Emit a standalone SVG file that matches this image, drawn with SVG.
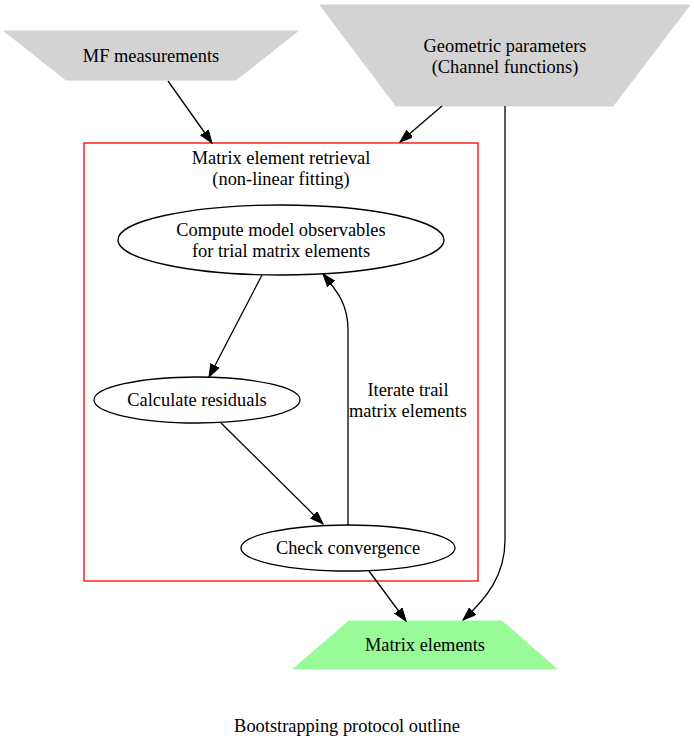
<svg xmlns="http://www.w3.org/2000/svg" width="694" height="748" viewBox="0 0 694 748">
  <style>
    text { font-family: "Liberation Serif", "Times New Roman", serif; font-size: 18.4px; fill: #000; text-anchor: middle; }
    .input { fill: #d3d3d3; stroke: #d3d3d3; }
    .output { fill: #98fb98; stroke: #98fb98; }
    .step { fill: none; stroke: #000; stroke-width: 1.3; }
    .cluster { fill: none; stroke: #ff0000; stroke-width: 1.3; }
    .edge { fill: none; stroke: #000; stroke-width: 1.3; marker-end: url(#arrow); }
  </style>
  <defs>
    <marker id="arrow" markerUnits="userSpaceOnUse" markerWidth="14" markerHeight="10" refX="13" refY="4.7" orient="auto">
      <path d="M0,0 L13,4.7 L0,9.4 z" fill="#000" stroke="#000" stroke-width="1"/>
    </marker>
  </defs>

  <rect width="694" height="748" fill="#fff"/>

  <!-- fitting loop container -->
  <g id="cluster_retrieval">
    <rect class="cluster" x="84" y="143" width="394" height="438"/>
    <text x="281" y="164">Matrix element retrieval</text>
    <text x="281" y="185">(non-linear fitting)</text>
  </g>

  <g id="mf_measurements">
    <polygon class="input" points="4,31 298,31 236,80 66,80"/>
    <text x="151" y="62">MF measurements</text>
  </g>

  <g id="geometric_parameters">
    <polygon class="input" points="320,5 690,5 613,106 396,106"/>
    <text x="505" y="52">Geometric parameters</text>
    <text x="505" y="73">(Channel functions)</text>
  </g>

  <g id="compute_observables">
    <ellipse class="step" cx="281" cy="240" rx="163" ry="35"/>
    <text x="281" y="236">Compute model observables</text>
    <text x="281" y="257">for trial matrix elements</text>
  </g>

  <g id="calculate_residuals">
    <ellipse class="step" cx="197" cy="400" rx="103" ry="23"/>
    <text x="197" y="406">Calculate residuals</text>
  </g>

  <g id="check_convergence">
    <ellipse class="step" cx="348" cy="548" rx="107" ry="23"/>
    <text x="348" y="554">Check convergence</text>
  </g>

  <g id="matrix_elements">
    <polygon class="output" points="349,621 502,621 557,669 293,669"/>
    <text x="425" y="651">Matrix elements</text>
  </g>

  <g id="connectors">
    <path class="edge" d="M168,81 L212,143"/>
    <path class="edge" d="M442,106 L400,142"/>
    <path class="edge" d="M505,106 L505,540 C505,575 487,598 463,620"/>
    <path class="edge" d="M262,275 L209,377"/>
    <path class="edge" d="M221,423 L323,524"/>
    <path class="edge" d="M348,525 L348,330 C348,305 338,292 323,274"/>
    <text x="408" y="396">Iterate trail</text>
    <text x="408" y="417">matrix elements</text>
    <path class="edge" d="M369,571 L406,621"/>
  </g>

  <text x="347" y="732">Bootstrapping protocol outline</text>
</svg>
